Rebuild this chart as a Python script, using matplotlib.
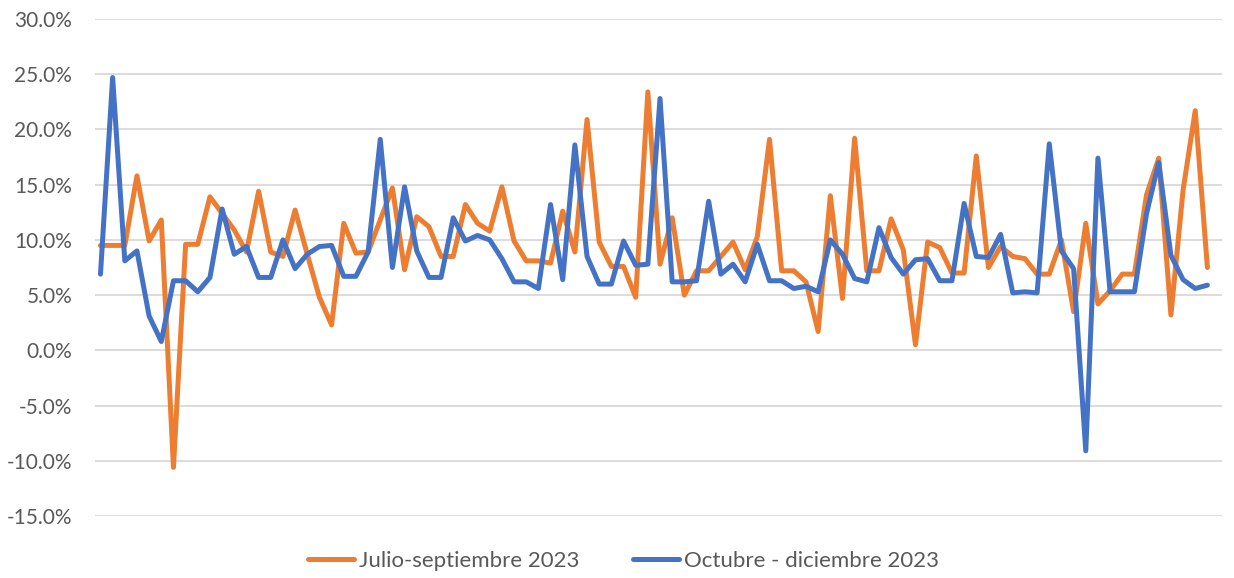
import matplotlib

matplotlib.use("Agg")
import matplotlib.pyplot as plt
from matplotlib.ticker import FuncFormatter

# daily values, % (92 days each)
julio_sep = [
    9.5, 9.5, 9.5, 15.8, 9.9, 11.8, -10.6, 9.6, 9.6, 13.9,
    12.4, 10.9, 8.9, 14.4, 8.9, 8.5, 12.7, 8.7, 4.8, 2.3,
    11.5, 8.8, 8.9, 11.8, 14.7, 7.3, 12.1, 11.2, 8.5, 8.5,
    13.2, 11.5, 10.8, 14.8, 9.9, 8.1, 8.1, 7.9, 12.6, 8.9,
    20.9, 9.8, 7.6, 7.6, 4.8, 23.4, 7.8, 12.0, 5.0, 7.2,
    7.2, 8.5, 9.8, 7.3, 10.3, 19.1, 7.2, 7.2, 6.2, 1.7,
    14.0, 4.7, 19.2, 7.2, 7.2, 11.9, 9.1, 0.5, 9.8, 9.3,
    7.0, 7.0, 17.6, 7.5, 9.4, 8.5, 8.3, 6.9, 6.9, 10.0,
    3.5, 11.5, 4.2, 5.4, 6.9, 6.9, 14.1, 17.4, 3.2, 14.5,
    21.7, 7.5,
]
oct_dic = [
    6.9, 24.7, 8.1, 9.0, 3.1, 0.8, 6.3, 6.3, 5.3, 6.6,
    12.8, 8.7, 9.4, 6.6, 6.6, 10.0, 7.4, 8.7, 9.4, 9.5,
    6.7, 6.7, 8.9, 19.1, 7.5, 14.8, 9.0, 6.6, 6.6, 12.0,
    9.9, 10.4, 10.0, 8.3, 6.2, 6.2, 5.6, 13.2, 6.4, 18.6,
    8.5, 6.0, 6.0, 9.9, 7.7, 7.8, 22.8, 6.2, 6.2, 6.3,
    13.5, 6.9, 7.8, 6.2, 9.6, 6.3, 6.3, 5.6, 5.8, 5.3,
    10.0, 8.7, 6.5, 6.2, 11.1, 8.4, 6.9, 8.2, 8.3, 6.3,
    6.3, 13.3, 8.5, 8.4, 10.5, 5.2, 5.3, 5.2, 18.7, 9.0,
    7.4, -9.1, 17.4, 5.3, 5.3, 5.3, 12.4, 17.0, 8.6, 6.4,
    5.6, 5.9,
]
series_names = ["Julio-septiembre 2023", "Octubre - diciembre 2023"]
y_ticks = [-15, -10, -5, 0, 5, 10, 15, 20, 25, 30]

ORANGE = "#ED7D31"
BLUE = "#4472C4"
GREY_TXT = "#595959"

plt.rcParams["font.family"] = ["Lato", "DejaVu Sans"]

fig = plt.figure(figsize=(12.34, 5.78), dpi=100)
ax = fig.add_axes([95 / 1234, 1 - 516 / 578, (1222 - 95) / 1234, (516 - 19) / 578])

x = range(len(julio_sep))
line_kw = dict(lw=3.6, solid_joinstyle="round", solid_capstyle="round")
ax.plot(x, julio_sep, color=ORANGE, label=series_names[0], zorder=3, **line_kw)
ax.plot(x, oct_dic, color=BLUE, label=series_names[1], zorder=4, **line_kw)

ax.set_ylim(-15, 30)
ax.set_xlim(-0.45, 92.2)
ax.set_yticks(y_ticks)
ax.yaxis.set_major_formatter(FuncFormatter(lambda v, _: f"{v:.1f}%"))
ax.set_xticks([])
ax.tick_params(axis="y", length=0, pad=16.5, labelsize=15, labelcolor=GREY_TXT)
ax.grid(axis="y", color="#D9D9D9", lw=1.3)
ax.set_axisbelow(True)
for s in ax.spines.values():
    s.set_visible(False)

fig.legend(
    loc="lower center",
    bbox_to_anchor=(0.505, -0.022),
    ncol=2,
    frameon=False,
    fontsize=16,
    labelcolor=GREY_TXT,
    handlelength=2.1,
    handletextpad=0.2,
    columnspacing=2.4,
)

fig.savefig("out.png", dpi=100)
